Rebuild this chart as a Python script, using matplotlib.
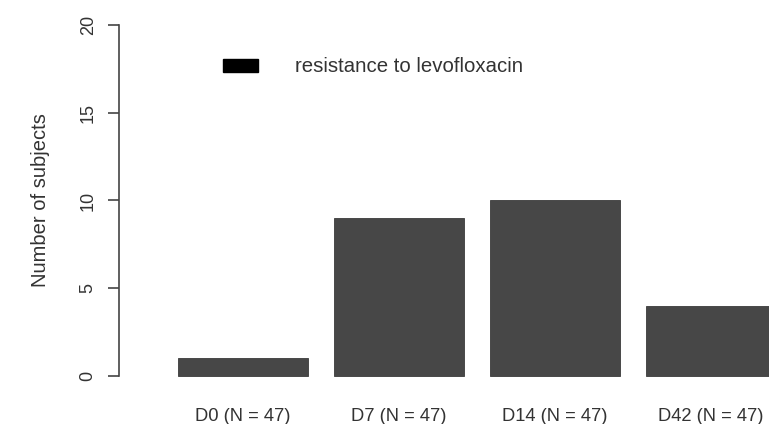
import matplotlib
matplotlib.use("Agg")
import matplotlib.pyplot as plt
from matplotlib.patches import Patch

# resistance counts per visit
days = ["D0", "D7", "D14", "D42"]
n_subjects = [47, 47, 47, 47]
resistant = [1, 9, 10, 4]
y_ticks = [0, 5, 10, 15, 20]

plt.rcParams['font.family'] = ['Liberation Sans', 'DejaVu Sans']

W, H = 769, 424
fig = plt.figure(figsize=(W / 100, H / 100), dpi=100)

# axes placed so bars fall where an R barplot would put them
ax = fig.add_axes([130 / W, 39.2 / H, (W - 130) / W, 368.6 / H])

# spine setup first: set_position resets the tick labels
for side in ["top", "right", "bottom"]:
    ax.spines[side].set_visible(False)
ax.spines["left"].set_position(("outward", 8))
ax.spines["left"].set_bounds(0, 20)
ax.spines["left"].set_linewidth(1.2)
ax.spines["left"].set_color("#444444")

# R barplot layout: width 1, space 0.2
centers = [0.7 + 1.2 * i for i in range(len(days))]
labels = [f"{d} (N = {n})" for d, n in zip(days, n_subjects)]
ax.bar(centers, resistant, width=1.0, color="#474747", edgecolor="#3a3a3a", linewidth=0.6)

ax.set_xlim(-0.17, 4.746)
ax.set_ylim(-0.5, 20.5)

ax.set_xticks(centers)
ax.set_xticklabels(labels, fontsize=13.2, color="#333333")
ax.tick_params(axis="x", length=0, pad=17)

ax.set_yticks(y_ticks)
ax.set_yticklabels([str(t) for t in y_ticks], rotation=90, va="center",
                   fontsize=13, color="#333333")
ax.tick_params(axis="y", length=8, width=1.2, color="#444444", pad=8)

ax.set_ylabel("Number of subjects", fontsize=14.5, color="#333333", labelpad=21)

handle = Patch(facecolor="black", edgecolor="black")
ax.legend([handle], ["resistance to levofloxacin"], loc="center left",
          bbox_to_anchor=(223 / W, 1 - 67 / H), bbox_transform=fig.transFigure,
          frameon=False, borderpad=0, borderaxespad=0, fontsize=14.7,
          handlelength=1.72, handleheight=0.62, handletextpad=1.8,
          labelcolor="#333333")

fig.savefig("out.png", dpi=100)
